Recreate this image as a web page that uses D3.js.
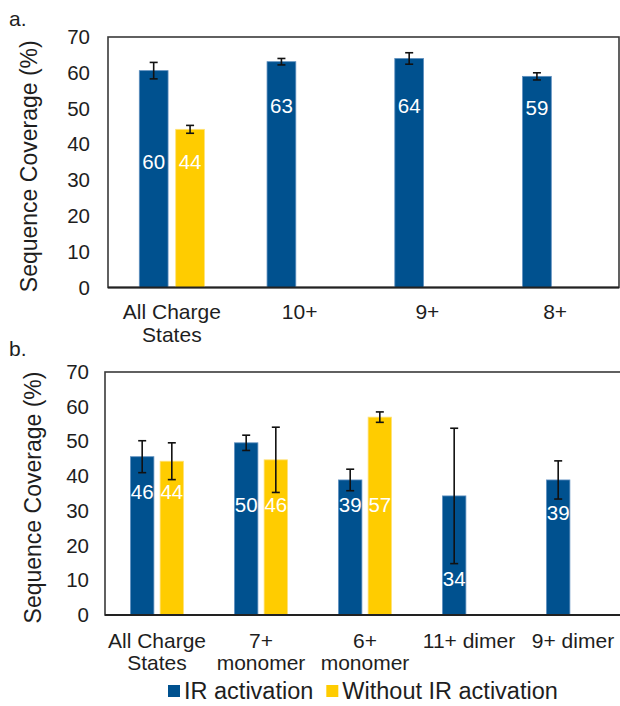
<!DOCTYPE html>
<html>
<head>
<meta charset="utf-8">
<script src="https://cdn.jsdelivr.net/npm/d3@7"></script>
<style>
  body { margin: 0; background: #fff; }
  svg text { font-family: Arial, "Liberation Sans", sans-serif; fill: #1e1e1e; }
</style>
</head>
<body>
<svg id="chart" width="620" height="706"></svg>
<script>
// ---- data ----
const yTicks = [0, 10, 20, 30, 40, 50, 60, 70];
const seriesNames = ['IR activation', 'Without IR activation'];

// panel a
const catsA = [['All Charge', 'States'], ['10+'], ['9+'], ['8+']];
const irA = [60.6, 63.1, 64.0, 59.0];
const irErrA = [2.3, 0.9, 1.6, 1.0];
const irLabelA = ['60', '63', '64', '59'];
const noIrA = [44.2, null, null, null];
const noIrErrA = [1.1, null, null, null];
const noIrLabelA = ['44', null, null, null];

// panel b
const catsB = [['All Charge', 'States'], ['7+', 'monomer'], ['6+', 'monomer'], ['11+ dimer'], ['9+ dimer']];
const irB = [45.6, 49.6, 38.9, 34.3, 38.9];
const irErrB = [4.6, 2.2, 3.1, 19.5, 5.5];
const irLabelB = ['46', '50', '39', '34', '39'];
const noIrB = [44.3, 44.7, 57.0, null, null];
const noIrErrB = [5.3, 9.4, 1.5, null, null];
const noIrLabelB = ['44', '46', '57', null, null];

// ---- styling ----
const BLUE = '#00518f', BLUE_EDGE = '#5f8fbf';
const YELLOW = '#ffcc00', YELLOW_EDGE = '#ffe27a';
// data labels were hand-placed in the original; anchor heights in axis units
const labelAtA = { ir: [35.2, 50.8, 50.8, 50.2], noIr: [35.2] };
const labelAtB = { ir: [35.5, 31.7, 31.9, 10.6, 29.5], noIr: [35.5, 31.7, 31.9] };

const svg = d3.select('#chart');

function drawPanel(p) {
  const n = p.cats.length;
  const x0 = d3.scaleBand().domain(d3.range(n)).range([p.left, p.right]).paddingInner(0.49).paddingOuter(0.245);
  const x1 = d3.scaleBand().domain([0, 1]).range([0, x0.bandwidth()]).paddingInner(0.21);
  const y = d3.scaleLinear().domain([0, 70]).range([p.bottom, p.top]);
  const g = svg.append('g');

  // frame
  g.append('rect').attr('x', p.left).attr('y', p.top)
    .attr('width', p.right - p.left).attr('height', p.bottom - p.top)
    .attr('fill', 'none').attr('stroke', '#3a3a3a').attr('stroke-width', 1.6);

  // y axis labels
  g.append('g').attr('transform', `translate(${p.left},0)`)
    .call(d3.axisLeft(y).tickValues(yTicks).tickSize(0).tickPadding(p.left - p.tickX))
    .call(s => s.select('.domain').remove())
    .call(s => s.selectAll('text').style('font-family', 'Arial, "Liberation Sans", sans-serif')
      .style('font-size', '20.5px').attr('fill', '#1e1e1e'));

  g.append('text')
    .attr('transform', `translate(${p.titleX},${(p.top + p.bottom) / 2 + 4}) rotate(-90)`)
    .attr('text-anchor', 'middle').attr('dominant-baseline', 'central')
    .style('font-size', '23px').text('Sequence Coverage (%)');

  const series = [
    { vals: p.ir, err: p.irErr, lab: p.irLabel, at: p.labelAt.ir, fill: BLUE, edge: BLUE_EDGE },
    { vals: p.noIr, err: p.noIrErr, lab: p.noIrLabel, at: p.labelAt.noIr, fill: YELLOW, edge: YELLOW_EDGE }
  ];

  series.forEach((s, si) => {
    const rows = s.vals.map((v, i) => ({ i, v, e: s.err[i], lab: s.lab[i], at: s.at[i] })).filter(d => d.v != null);
    const bx = d => x0(d.i) + x1(si);
    const cx = d => bx(d) + x1.bandwidth() / 2;

    g.selectAll(null).data(rows).enter().append('rect')
      .attr('x', bx).attr('y', d => y(d.v))
      .attr('width', x1.bandwidth()).attr('height', d => y(0) - y(d.v))
      .attr('fill', s.fill).attr('stroke', s.edge).attr('stroke-width', 0.8);

    // error bars
    const eb = g.selectAll(null).data(rows).enter().append('g').attr('stroke', '#111').attr('stroke-width', 1.6);
    eb.append('line').attr('x1', cx).attr('x2', cx).attr('y1', d => y(d.v - d.e)).attr('y2', d => y(d.v + d.e));
    [-1, 1].forEach(k => {
      eb.append('line').attr('x1', d => cx(d) - 4).attr('x2', d => cx(d) + 4)
        .attr('y1', d => y(d.v + k * d.e)).attr('y2', d => y(d.v + k * d.e));
    });

    g.selectAll(null).data(rows).enter().append('text')
      .attr('x', cx).attr('y', d => y(d.at))
      .attr('text-anchor', 'middle').attr('dominant-baseline', 'central')
      .style('font-size', '20.5px').style('fill', '#fff').text(d => d.lab);
  });

  // x axis line
  g.append('line').attr('x1', p.left).attr('x2', p.right).attr('y1', p.bottom).attr('y2', p.bottom)
    .attr('stroke', '#222').attr('stroke-width', 2.2);

  // category labels
  const ct = g.selectAll(null).data(p.cats).enter().append('text')
    .attr('text-anchor', 'middle').style('font-size', '21px');
  ct.each(function (lines, i) {
    lines.forEach((ln, j) => {
      d3.select(this).append('tspan').attr('x', x0(i) + x0.bandwidth() / 2)
        .attr('y', p.catY + j * p.catLine).attr('dominant-baseline', 'central').text(ln);
    });
  });

  svg.append('text').attr('x', 9).attr('y', p.tagY).attr('dominant-baseline', 'central')
    .style('font-size', '21px').text(p.tag);
}

drawPanel({
  tag: 'a.', tagY: 18, left: 108, right: 619, top: 37, bottom: 287.5, tickX: 90, titleX: 29,
  cats: catsA, ir: irA, irErr: irErrA, irLabel: irLabelA, noIr: noIrA, noIrErr: noIrErrA, noIrLabel: noIrLabelA,
  labelAt: labelAtA, catY: 311, catLine: 23
});

drawPanel({
  tag: 'b.', tagY: 348, left: 105, right: 625, top: 372, bottom: 615, tickX: 89, titleX: 33,
  cats: catsB, ir: irB, irErr: irErrB, irLabel: irLabelB, noIr: noIrB, noIrErr: noIrErrB, noIrLabel: noIrLabelB,
  labelAt: labelAtB, catY: 640, catLine: 22
});

// legend
const legend = svg.append('g').attr('transform', 'translate(168,691)');
let lx = 0;
seriesNames.forEach((name, i) => {
  legend.append('rect').attr('x', lx).attr('y', -6).attr('width', 12).attr('height', 12)
    .attr('fill', i === 0 ? BLUE : YELLOW);
  const t = legend.append('text').attr('x', lx + 16).attr('y', 0).attr('dominant-baseline', 'central')
    .style('font-size', '23.5px').text(name);
  lx += 16 + t.node().getComputedTextLength() + 13;
});
</script>
</body>
</html>
